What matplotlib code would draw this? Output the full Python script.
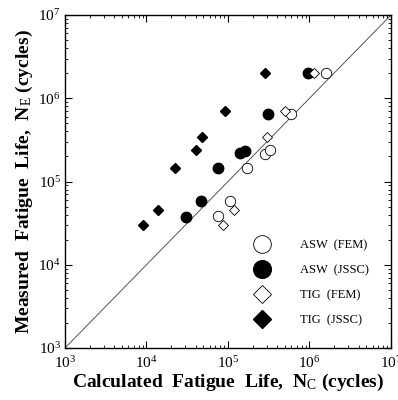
import matplotlib
matplotlib.use("Agg")
import matplotlib.pyplot as plt
from matplotlib.ticker import LogLocator, NullFormatter

plt.rcParams['font.family'] = ['Liberation Serif', 'DejaVu Serif']
plt.rcParams['mathtext.fontset'] = 'custom'
plt.rcParams['mathtext.rm'] = 'Liberation Serif'
plt.rcParams['mathtext.it'] = 'Liberation Serif:italic'
plt.rcParams['mathtext.bf'] = 'Liberation Serif:bold'

# ASW (FEM) - open circles
asw_fem_nc = [1.6e6, 5.9e5, 2.85e5, 3.3e5, 1.7e5, 1.07e5, 7.5e4]
asw_fem_ne = [2.0e6, 6.4e5, 2.14e5, 2.39e5, 1.45e5, 5.8e4, 3.8e4]
# ASW (JSSC) - filled circles
asw_jssc_nc = [9.5e5, 3.1e5, 1.4e5, 1.62e5, 7.6e4, 4.7e4, 3.05e4]
asw_jssc_ne = [2.0e6, 6.4e5, 2.18e5, 2.34e5, 1.44e5, 5.9e4, 3.7e4]
# TIG (FEM) - open diamonds
tig_fem_nc = [1.15e6, 5.0e5, 2.98e5, 1.19e5, 8.8e4]
tig_fem_ne = [2.0e6, 7.0e5, 3.45e5, 4.5e4, 3.0e4]
# TIG (JSSC) - filled diamonds
tig_jssc_nc = [2.85e5, 9.2e4, 4.8e4, 4.1e4, 2.24e4, 1.37e4, 9.1e3]
tig_jssc_ne = [2.0e6, 7.0e5, 3.45e5, 2.39e5, 1.47e5, 4.6e4, 3.0e4]

labels = ['ASW  (FEM)', 'ASW  (JSSC)', 'TIG  (FEM)', 'TIG  (JSSC)']
diag = [1e3, 1e7]

fig = plt.figure(figsize=(3.98, 4.0), dpi=100)
ax = fig.add_axes([0.1633, 0.13, 0.8191, 0.8325])

ax.plot(diag, diag, color='#555555', lw=0.7, zorder=1)

ax.plot(asw_fem_nc, asw_fem_ne, 'o', ms=7.5, mfc='white', mec='black', mew=0.6, ls='none', label=labels[0], zorder=3)
ax.plot(asw_jssc_nc, asw_jssc_ne, 'o', ms=7.5, mfc='black', mec='black', ls='none', label=labels[1], zorder=3)
ax.plot(tig_fem_nc, tig_fem_ne, 'D', ms=5.5, mfc='white', mec='black', mew=0.6, ls='none', label=labels[2], zorder=3)
ax.plot(tig_jssc_nc, tig_jssc_ne, 'D', ms=5.5, mfc='black', mec='black', ls='none', label=labels[3], zorder=3)

ax.set_xscale('log')
ax.set_yscale('log')
ax.set_xlim(1e3, 1e7)
ax.set_ylim(1e3, 1e7)

for axis in (ax.xaxis, ax.yaxis):
    axis.set_major_locator(LogLocator(base=10, numticks=10))
    axis.set_minor_locator(LogLocator(base=10, subs=range(2, 10), numticks=20))
    axis.set_minor_formatter(NullFormatter())

ax.tick_params(which='both', direction='in', top=True, right=True, labelsize=11)
ax.tick_params(which='major', length=5, width=0.8)
ax.tick_params(which='minor', length=2.5, width=0.6)
ax.tick_params(axis='x', pad=5)
ax.tick_params(axis='y', pad=3)
for s in ax.spines.values():
    s.set_linewidth(1.0)

ax.set_xlabel(r'Calculated  Fatigue  Life,  N$_{\rm C}$ (cycles)', fontsize=14, fontweight='bold', labelpad=1)
ax.set_ylabel(r'Measured  Fatigue  Life,  N$_{\rm E}$ (cycles)', fontsize=14, fontweight='bold', labelpad=2)

leg = ax.legend(loc='upper left', bbox_to_anchor=(0.56, 0.342), borderaxespad=0, frameon=False, fontsize=9,
                markerscale=1.7, handletextpad=2.3, labelspacing=1.05, handlelength=1.5)

fig.savefig('out.png', dpi=100)
